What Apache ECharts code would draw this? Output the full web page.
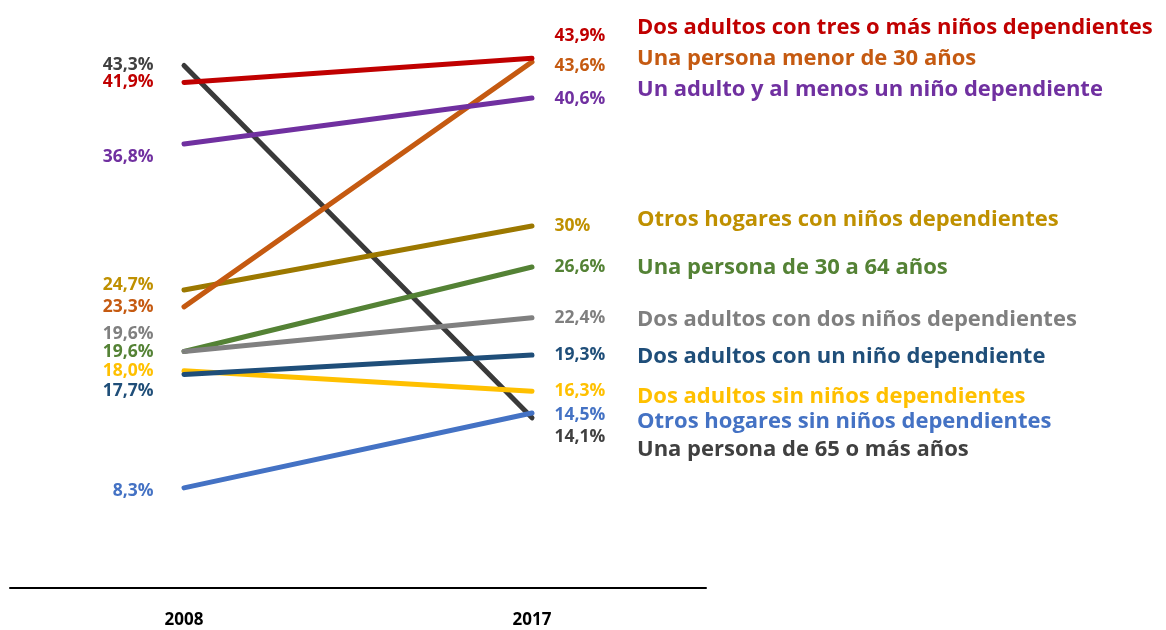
<!DOCTYPE html>
<html>
<head>
<meta charset="utf-8">
<script src="https://cdn.jsdelivr.net/npm/echarts@6/dist/echarts.min.js"></script>
<style>
  html, body { margin: 0; padding: 0; background: #fff; }
  #chart { width: 1166px; height: 630px; }
</style>
</head>
<body>
<div id="chart"></div>
<script>
var years = ["2008", "2017"];

var names = [
  "Dos adultos con tres o más niños dependientes",
  "Una persona menor de 30 años",
  "Un adulto y al menos un niño dependiente",
  "Otros hogares con niños dependientes",
  "Una persona de 30 a 64 años",
  "Dos adultos con dos niños dependientes",
  "Dos adultos con un niño dependiente",
  "Dos adultos sin niños dependientes",
  "Otros hogares sin niños dependientes",
  "Una persona de 65 o más años"
];
var values2008 = [41.9, 23.3, 36.8, 24.7, 19.6, 19.6, 17.7, 18.0, 8.3, 43.3];
var values2017 = [43.9, 43.6, 40.6, 30, 26.6, 22.4, 19.3, 16.3, 14.5, 14.1];

// styling (not data)
var lineColors = ["#C00000", "#C55A11", "#7030A0", "#9C7800", "#548235", "#808080", "#1F4E79", "#FFC000", "#4472C4", "#3A3A3A"];
var textColors = ["#C00000", "#C55A11", "#7030A0", "#BF9000", "#548235", "#7F7F7F", "#1F4E79", "#FFC000", "#4472C4", "#404040"];
var leftNudge = [0, 0, 13, -5, 1, -17, 17, 0, 3, 0];
var rightNudge = [-22, 4, 1, 0, 0, 0, 0, 0, 2, 19];
var nameNudge = [-31, -3, -8, -6, 1, 2, 2, 5, 9, 32];
var drawOrder = [9, 3, 1, 0, 2, 4, 5, 7, 6, 8];

var FONT = "Open Sans";

function fmt(v) {
  return v.toFixed(1).replace(".", ",") + "%";
}

var series = drawOrder.map(function (i) {
  return {
    name: names[i],
    type: "line",
    symbol: "circle",
    symbolSize: 1,
    z: 2,
    lineStyle: { color: lineColors[i], width: 5, cap: "round" },
    itemStyle: { color: lineColors[i] },
    data: [
      {
        value: values2008[i],
        label: {
          show: true, position: "left", distance: 30,
          offset: [0, leftNudge[i]],
          formatter: fmt(values2008[i])
        }
      },
      {
        value: values2017[i],
        label: {
          show: true, position: "right", distance: 22,
          offset: [0, rightNudge[i]],
          formatter: i === 3 ? "30%" : fmt(values2017[i])
        }
      }
    ],
    label: {
      color: textColors[i], fontFamily: FONT, fontWeight: "bold", fontSize: 17.5
    },
    endLabel: {
      show: true,
      distance: 0,
      offset: [105, nameNudge[i]],
      formatter: names[i],
      color: textColors[i], fontFamily: FONT, fontWeight: "bold", fontSize: 22
    },
    emphasis: { disabled: true }
  };
});

var chart = echarts.init(document.getElementById("chart"));
chart.setOption({
  animation: false,
  backgroundColor: "#fff",
  grid: { left: 10, right: 460, top: 45, bottom: 42 },
  xAxis: {
    type: "category",
    data: years,
    boundaryGap: true,
    axisLine: { lineStyle: { color: "#000", width: 2 } },
    axisTick: { show: false },
    axisLabel: { color: "#000", fontFamily: FONT, fontWeight: "bold", fontSize: 17, margin: 24 }
  },
  yAxis: {
    type: "value",
    min: 0,
    max: 45,
    show: false,
    splitLine: { show: false }
  },
  series: series
});
</script>
</body>
</html>
